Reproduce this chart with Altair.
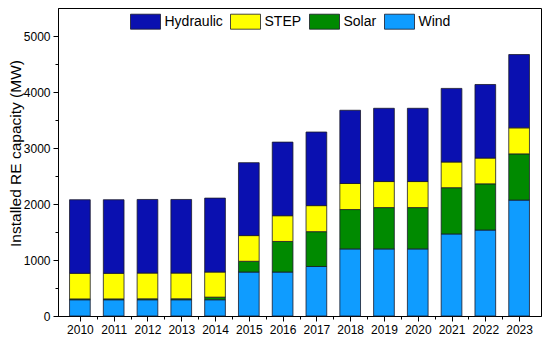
import altair as alt
import pandas as pd

years = list(range(2010, 2024))
wind = [290, 290, 290, 290, 290, 785, 785, 884, 1198, 1198, 1198, 1465, 1535, 2070]
solar = [15, 15, 17, 17, 47, 192, 546, 622, 703, 738, 738, 826, 825, 825]
step = [457, 457, 460, 460, 448, 459, 460, 465, 465, 465, 465, 459, 460, 465]
hydraulic = [1314, 1314, 1314, 1314, 1320, 1302, 1314, 1314, 1308, 1308, 1308, 1314, 1314, 1309]

sources = ["Hydraulic", "STEP", "Solar", "Wind"]
colors = ["#0A10B0", "#FFFF00", "#008A00", "#0F9CFF"]
stack_order = {"Wind": 0, "Solar": 1, "STEP": 2, "Hydraulic": 3}

x_tick_values = [2010 + 0.5 * i for i in range(27)]
y_tick_values = [500 * i for i in range(11)]

rows = []
for name, vals in [("Wind", wind), ("Solar", solar), ("STEP", step), ("Hydraulic", hydraulic)]:
    for yr, v in zip(years, vals):
        rows.append({"year": yr, "source": name, "value": v, "order": stack_order[name]})
df = pd.DataFrame(rows)

FONT = "Liberation Sans"

chart = alt.Chart(df).mark_bar(size=20.7, stroke="#1a1a2a", strokeWidth=0.8).encode(
    x=alt.X(
        "year:Q",
        scale=alt.Scale(domain=[2009.5, 2023.5], nice=False, zero=False),
        axis=alt.Axis(
            values=x_tick_values,
            title=None,
            grid=False,
            labelExpr="datum.value % 1 === 0 ? format(datum.value, 'd') : ''",
            tickSize={"condition": {"test": "datum.value % 1 === 0", "value": 5}, "value": 3},
            labelPadding=3,
            labelFlush=False,
            labelOverlap=False,
            labelFontSize=12,
        ),
    ),
    y=alt.Y(
        "value:Q",
        stack="zero",
        scale=alt.Scale(domain=[0, 5500], nice=False),
        axis=alt.Axis(
            values=y_tick_values,
            title="Installed RE capacity (MW)",
            grid=False,
            labelExpr="datum.value % 1000 === 0 ? format(datum.value, 'd') : ''",
            tickSize={"condition": {"test": "datum.value % 1000 === 0", "value": 5}, "value": 3},
            labelPadding=3,
            labelFontSize=12,
            titleFontSize=15.5,
            titleFontWeight="normal",
            titlePadding=0,
            titleY=145,
        ),
    ),
    color=alt.Color(
        "source:N",
        scale=alt.Scale(domain=sources, range=colors),
        legend=alt.Legend(
            orient="none",
            legendX=72,
            legendY=-2,
            direction="horizontal",
            title=None,
            symbolType="M-1,-0.5H1V0.5H-1Z",
            symbolSize=900,
            symbolStrokeColor="#1a1a2a",
            symbolStrokeWidth=0.8,
            symbolOpacity=1,
            labelFontSize=14,
            labelFont=FONT,
            labelColor="black",
            labelOffset=3.5,
            columnPadding=5,
        ),
    ),
    order=alt.Order("order:Q", sort="ascending"),
).properties(
    width=483,
    height=308,
    autosize=alt.AutoSizeParams(type="none"),
    padding={"left": 50, "top": 0, "right": 1, "bottom": 20},
).configure_view(
    stroke="black", strokeWidth=1
).configure_axis(
    domainColor="black",
    tickColor="black",
    labelColor="black",
    titleColor="black",
    labelFont=FONT,
    titleFont=FONT,
)

chart.save("out.html", embed_options={"renderer": "svg", "actions": False})
